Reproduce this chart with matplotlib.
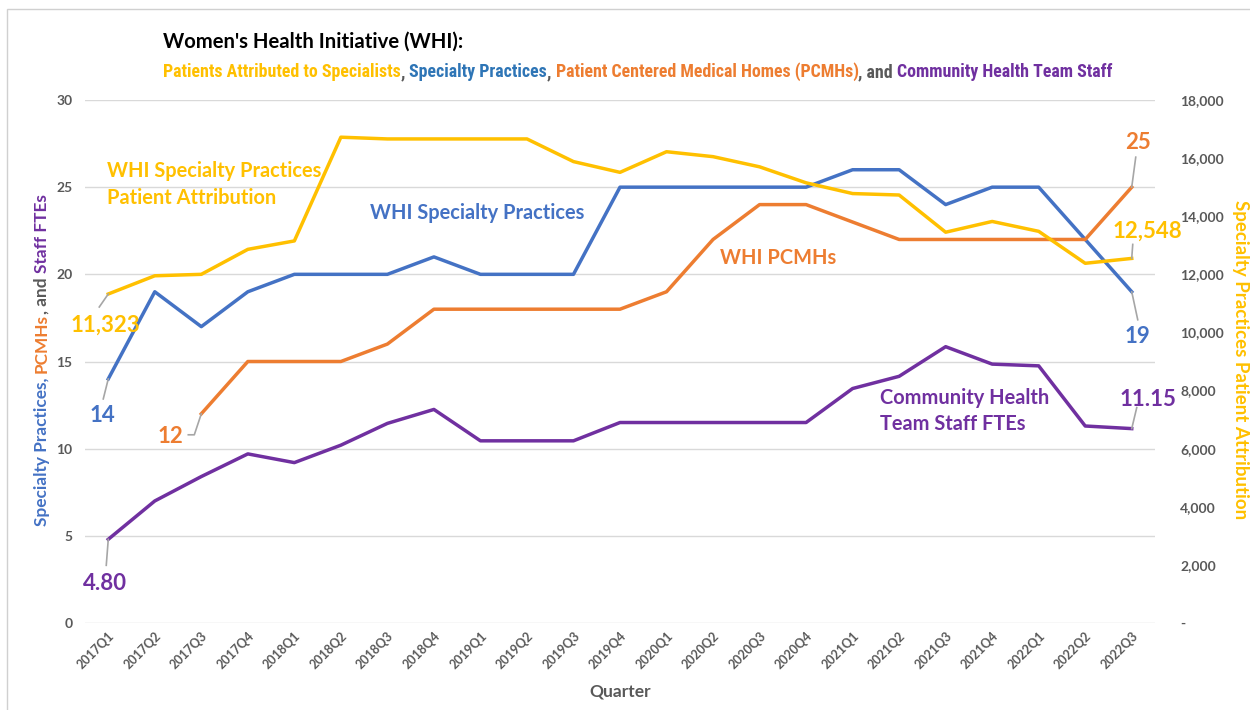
import matplotlib
matplotlib.use("Agg")
import matplotlib.pyplot as plt
from matplotlib import font_manager
from matplotlib.lines import Line2D
from matplotlib.patches import Rectangle

# ---------------- data ----------------
quarters = ["2017Q1", "2017Q2", "2017Q3", "2017Q4", "2018Q1", "2018Q2", "2018Q3", "2018Q4",
            "2019Q1", "2019Q2", "2019Q3", "2019Q4", "2020Q1", "2020Q2", "2020Q3", "2020Q4",
            "2021Q1", "2021Q2", "2021Q3", "2021Q4", "2022Q1", "2022Q2", "2022Q3"]
specialty_practices = [14, 19, 17, 19, 20, 20, 20, 21, 20, 20, 20, 25, 25, 25, 25, 25,
                       26, 26, 24, 25, 25, 22, 19]
pcmh_quarters = quarters[2:]
pcmhs = [12, 15, 15, 15, 16, 18, 18, 18, 18, 18, 19, 22, 24, 24, 23, 22, 22, 22, 22, 22, 25]
cht_staff_ftes = [4.80, 7.0, 8.4, 9.7, 9.2, 10.2, 11.45, 12.25, 10.45, 10.45, 10.45, 11.5,
                  11.5, 11.5, 11.5, 11.5, 13.45, 14.15, 15.85, 14.85, 14.75, 11.3, 11.15]
patient_attribution = [11323, 11950, 12000, 12860, 13150, 16720, 16660, 16660, 16660, 16660,
                       15880, 15510, 16220, 16050, 15700, 15150, 14780, 14730, 13450, 13820,
                       13480, 12380, 12548]
left_ticks = [0, 5, 10, 15, 20, 25, 30]
right_ticks = [0, 2000, 4000, 6000, 8000, 10000, 12000, 14000, 16000, 18000]

BLUE = "#4472C4"
ORANGE = "#ED7D31"
YELLOW = "#FFC000"
PURPLE = "#7030A0"
GRAY = "#595959"
GRID = "#D9D9D9"

avail = {f.name for f in font_manager.fontManager.ttflist}
def pick(*names):
    for n in names:
        if n in avail:
            return n
    return "DejaVu Sans"
FONT = pick("Lato", "Open Sans", "DejaVu Sans")
NARROW = pick("Liberation Sans Narrow", "Roboto Condensed", "Lato")
plt.rcParams["font.family"] = [FONT, "DejaVu Sans"]

W, H = 1250, 710
fig = plt.figure(figsize=(W / 100, H / 100), dpi=100)
fig.patches.append(Rectangle((7 / W, -0.01), 1.02, 1 - 9 / H + 0.01, transform=fig.transFigure,
                             fill=False, edgecolor="#D0D0D0", lw=1))

ax = fig.add_axes([85 / W, 1 - 623 / H, (1155 - 85) / W, (623 - 100) / H])
ax2 = ax.twinx()

x = list(range(len(quarters)))
xp = [quarters.index(q) for q in pcmh_quarters]
lw = 2.5
ax.plot(x, specialty_practices, color=BLUE, lw=lw, solid_joinstyle="round", zorder=3)
ax.plot(xp, pcmhs, color=ORANGE, lw=lw, solid_joinstyle="round", zorder=3)
ax.plot(x, cht_staff_ftes, color=PURPLE, lw=lw, solid_joinstyle="round", zorder=3)
ax2.plot(x, patient_attribution, color=YELLOW, lw=lw, solid_joinstyle="round", zorder=3)

ax.set_xlim(-0.5, len(quarters) - 0.5)
ax.set_ylim(0, 30)
ax2.set_ylim(0, 18000)
ax.set_yticks(left_ticks)
ax.set_yticklabels([str(v) for v in left_ticks], color=GRAY, fontsize=10, fontweight="bold")
ax2.set_yticks(right_ticks)
ax2.set_yticklabels(["-" if v == 0 else f"{v:,}" for v in right_ticks], color=GRAY,
                    fontsize=10, fontweight="bold")
ax.set_xticks(x)
ax.set_xticklabels(quarters, rotation=45, ha="right", rotation_mode="anchor",
                   color=GRAY, fontsize=9, fontweight="bold")
ax.tick_params(axis="both", length=0)
ax.tick_params(axis="y", pad=9)
ax.tick_params(axis="x", pad=5)
ax2.tick_params(axis="y", length=0, pad=18)
ax.grid(axis="y", color=GRID, lw=1)
ax.set_axisbelow(True)
for a in (ax, ax2):
    for s in a.spines.values():
        s.set_visible(False)
ax.set_xlabel("Quarter", color=GRAY, fontsize=12.5, fontweight="bold", labelpad=9)

# -------- data labels with leader lines (in pixel offsets) --------
def leader(axis, xi, yi, pts, text, color, tx, ty, size=16):
    trans = axis.transData
    px, py = trans.transform((xi, yi))
    xs = [px] + [px + d[0] for d in pts]
    ys = [py] + [py + d[1] for d in pts]
    fig.add_artist(Line2D([v / W for v in xs], [v / H for v in ys], transform=fig.transFigure,
                          color="#A6A6A6", lw=1.2, zorder=5))
    fig.text((px + tx) / W, (py + ty) / H, text, color=color, fontsize=size,
             fontweight="bold", ha="center", va="center")

leader(ax2, 0, patient_attribution[0], [(-9, -13)], f"{patient_attribution[0]:,}", YELLOW, -3, -31)
leader(ax, 0, specialty_practices[0], [(-5, -20)], str(specialty_practices[0]), BLUE, -6, -37)
leader(ax, xp[0], pcmhs[0], [(-7, -21), (-13, -21)], str(pcmhs[0]), ORANGE, -31, -23)
leader(ax, 0, cht_staff_ftes[0], [(-2, -26)], f"{cht_staff_ftes[0]:.2f}", PURPLE, -3, -44)
leader(ax, 22, pcmhs[-1], [(4, 30)], str(pcmhs[-1]), ORANGE, 6, 45)
leader(ax2, 22, patient_attribution[-1], [(1, 14)], f"{patient_attribution[-1]:,}", YELLOW, 16, 27)
leader(ax, 22, specialty_practices[-1], [(6, -28)], str(specialty_practices[-1]), BLUE, 6, -45)
leader(ax, 22, cht_staff_ftes[-1], [(5, 21)], f"{cht_staff_ftes[-1]:.2f}", PURPLE, 16, 29)

# -------- series names --------
def ptext(xpx, ypx, s, color, size=14.4, ha="left", va="center", **kw):
    return fig.text(xpx / W, 1 - ypx / H, s, color=color, fontsize=size,
                    fontweight="bold", ha=ha, va=va, **kw)

ptext(107, 171, "WHI Specialty Practices", YELLOW)
ptext(107, 198, "Patient Attribution", YELLOW)
ptext(370, 213, "WHI Specialty Practices", BLUE)
ptext(720, 258, "WHI PCMHs", ORANGE)
ptext(880, 398, "Community Health", PURPLE)
ptext(880, 424, "Team Staff FTEs", PURPLE)

# -------- title --------
ptext(163, 42, "Women's Health Initiative (WHI):", "black", size=14.6)

fig.canvas.draw()
renderer = fig.canvas.get_renderer()

def multicolor(pieces, x0, y0, target_len, size, vertical=False, family=None):
    # measure with horizontal text, then place (rotated if vertical)
    probes = [fig.text(0, 0, s, fontsize=size, fontweight="bold", family=family)
              for s, c in pieces]
    lens = [p.get_window_extent(renderer).width for p in probes]
    scale = target_len / sum(lens)
    for p in probes:
        p.set_fontsize(size * scale)
    lens = [p.get_window_extent(renderer).width for p in probes]
    for p in probes:
        p.remove()
    pos = y0 if vertical else x0
    for (s, c), L in zip(pieces, lens):
        if vertical:
            fig.text(x0 / W, pos / H, s, color=c, fontsize=size * scale, fontweight="bold",
                     rotation=90, ha="center", va="bottom", family=family)
        else:
            fig.text(pos / W, 1 - y0 / H, s, color=c, fontsize=size * scale,
                     fontweight="bold", ha="left", va="center", family=family)
        pos += L

subtitle = [("Patients Attributed to Specialists", YELLOW), (", ", GRAY),
            ("Specialty Practices", "#2E75B6"), (", ", GRAY),
            ("Patient Centered Medical Homes (PCMHs)", ORANGE), (", and ", GRAY),
            ("Community Health Team Staff", PURPLE)]
multicolor(subtitle, 163, 72, 949, 10, family=[NARROW, "DejaVu Sans"])

ylabel = [("Specialty Practices, ", BLUE), ("PCMHs", ORANGE), (", and ", GRAY),
          ("Staff FTEs", PURPLE)]
multicolor(ylabel, 42, 710 - 526, 526 - 197, 12, vertical=True)

fig.text(1240 / W, 1 - 360 / H, "Specialty Practices Patient Attribution", color=YELLOW,
         fontsize=13.5, fontweight="bold", rotation=-90, ha="center", va="center")

fig.savefig("out.png", dpi=100)
